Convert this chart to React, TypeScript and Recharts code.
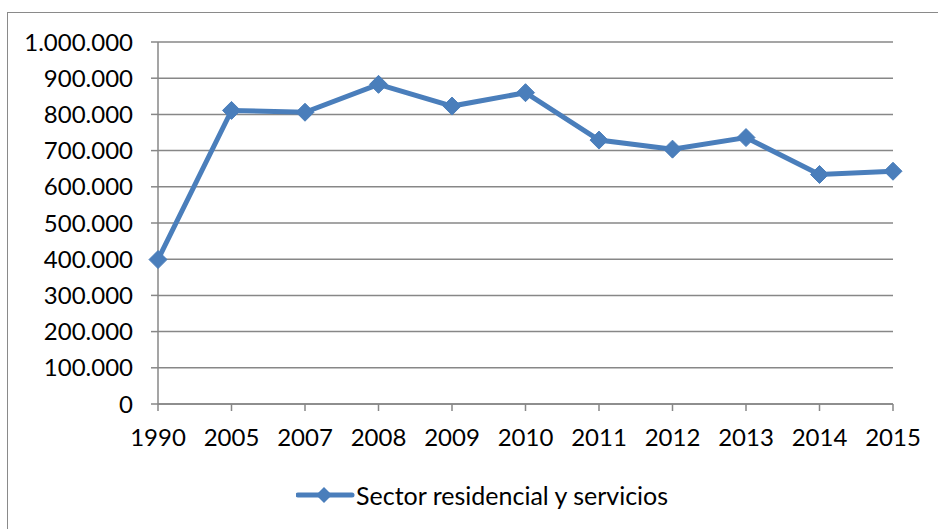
import React from "react"
import { LineChart, Line, XAxis, YAxis, CartesianGrid, Legend } from "recharts"

const years = ["1990", "2005", "2007", "2008", "2009", "2010", "2011", "2012", "2013", "2014", "2015"]
const residencial = [399000, 811000, 806000, 883000, 823000, 860000, 729000, 704000, 736000, 634000, 643000]
const yTicks = [0, 100000, 200000, 300000, 400000, 500000, 600000, 700000, 800000, 900000, 1000000]
const seriesName = "Sector residencial y servicios"

const data = years.map((year, i) => ({ year, value: residencial[i] }))

const BLUE = "#4A7EBB"
const GRID = "#878787"
const FONT = "Lato, 'Open Sans', sans-serif"

const fmt = (v: number) => v.toString().replace(/\B(?=(\d{3})+(?!\d))/g, ".")

function Diamond(props: any) {
  const { cx, cy } = props
  if (cx == null || cy == null) return null
  const r = 9
  return (
    <path
      d={`M${cx},${cy - r} L${cx + r},${cy} L${cx},${cy + r} L${cx - r},${cy} Z`}
      fill={BLUE}
      stroke={BLUE}
      strokeWidth={1}
    />
  )
}

function LegendBox() {
  return (
    <div style={{ display: "flex", alignItems: "center", fontFamily: FONT, fontSize: 25, color: "#000" }}>
      <svg width={60} height={20} style={{ display: "block" }}>
        <line x1={2} y1={10} x2={56} y2={10} stroke={BLUE} strokeWidth={5} strokeLinecap="round" />
        <path d="M28,2 L36,10 L28,18 L20,10 Z" fill={BLUE} />
      </svg>
      <span style={{ whiteSpace: "nowrap" }}>{seriesName}</span>
    </div>
  )
}

export default function App() {
  return (
    <div style={{ position: "absolute", left: 0, top: 0, width: 938, height: 529, overflow: "hidden", background: "#fff" }}>
      <div
        style={{
          position: "absolute",
          left: 7,
          top: 11.5,
          width: 960,
          height: 600,
          border: "1.5px solid #8a8a8a",
        }}
      />
      <LineChart
        width={938}
        height={529}
        data={data}
        margin={{ top: 42, right: 45, left: 0, bottom: 65 }}
        style={{ position: "absolute", left: 0, top: 0 }}
      >
        <CartesianGrid vertical={false} stroke={GRID} strokeWidth={1.5} />
        <XAxis
          dataKey="year"
          height={60}
          stroke={GRID}
          strokeWidth={1.5}
          tickSize={7}
          tickMargin={18}
          tick={{ fill: "#000", fontSize: 24, fontFamily: FONT }}
          interval={0}
        />
        <YAxis
          width={158}
          domain={[0, 1000000]}
          ticks={yTicks}
          tickFormatter={fmt}
          stroke={GRID}
          strokeWidth={1.5}
          tickSize={7}
          tickMargin={18}
          tick={{ fill: "#000", fontSize: 24, fontFamily: FONT }}
          interval={0}
        />
        <Legend
          layout="horizontal"
          verticalAlign="middle"
          align="center"
          content={<LegendBox />}
          wrapperStyle={{ left: 296, top: 480, width: "auto" }}
        />
        <Line
          dataKey="value"
          name={seriesName}
          stroke={BLUE}
          strokeWidth={5}
          dot={<Diamond />}
          activeDot={false}
          isAnimationActive={false}
        />
      </LineChart>
    </div>
  )
}
